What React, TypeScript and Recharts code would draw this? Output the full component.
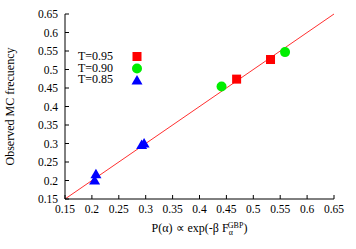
import React from "react";
import {
  ScatterChart,
  Scatter,
  XAxis,
  YAxis,
  ReferenceLine,
  Label,
} from "recharts";

const axisTicks = [0.15, 0.2, 0.25, 0.3, 0.35, 0.4, 0.45, 0.5, 0.55, 0.6, 0.65];
const axisDomain = [0.15, 0.65];

const t095X = [0.469, 0.532];
const t095Y = [0.474, 0.527];
const t090X = [0.441, 0.559];
const t090Y = [0.454, 0.547];
const t085X = [0.205, 0.2075, 0.2925, 0.297];
const t085Y = [0.2, 0.217, 0.296, 0.3];

const seriesNames = ["T=0.95", "T=0.90", "T=0.85"];
const seriesColors = ["#ff0000", "#00ee00", "#0000ff"];

const toPoints = (xs: number[], ys: number[]) =>
  xs.map((x, i) => ({ x, y: ys[i] }));

const FONT = "Liberation Serif";

const Square = (props: any) => {
  const { cx, cy, fill } = props;
  return <rect x={cx - 4.5} y={cy - 4.5} width={9} height={9} fill={fill} />;
};

const Circle = (props: any) => {
  const { cx, cy, fill } = props;
  return <circle cx={cx} cy={cy} r={5} fill={fill} />;
};

const Triangle = (props: any) => {
  const { cx, cy, fill } = props;
  return (
    <polygon
      points={`${cx},${cy - 5.5} ${cx + 5.5},${cy + 4} ${cx - 5.5},${cy + 4}`}
      fill={fill}
    />
  );
};

const shapes = [Square, Circle, Triangle];

const textStyle = { fontFamily: FONT, fill: "#000" };

const BottomTick = (props: any) => {
  const { x, y, payload } = props;
  return (
    <g>
      <line x1={x} y1={y} x2={x} y2={y - 4} stroke="#000" />
      <text x={x} y={y + 14} textAnchor="middle" fontSize={11.5} style={textStyle}>
        {payload.value}
      </text>
    </g>
  );
};

const LeftTick = (props: any) => {
  const { x, y, payload } = props;
  return (
    <g>
      <line x1={x} y1={y} x2={x + 4} y2={y} stroke="#000" />
      <text x={x - 7} y={y + 4} textAnchor="end" fontSize={11.5} style={textStyle}>
        {payload.value}
      </text>
    </g>
  );
};

const TopTick = (props: any) => {
  const { x, y } = props;
  return <line x1={x} y1={y} x2={x} y2={y + 4} stroke="#000" />;
};

const RightTick = (props: any) => {
  const { x, y } = props;
  return <line x1={x} y1={y} x2={x - 4} y2={y} stroke="#000" />;
};

const XTitle = (props: any) => {
  const { viewBox } = props;
  const cx = viewBox.x + viewBox.width / 2;
  const y = viewBox.y + 33;
  return (
    <text x={cx} y={y} textAnchor="middle" fontSize={12} style={textStyle}>
      <tspan>P(α) ∝ exp(-β F</tspan>
      <tspan fontSize={8} dy={3}>α</tspan>
      <tspan fontSize={8} dx={-5} dy={-7}>GBP</tspan>
      <tspan dy={4}>)</tspan>
    </text>
  );
};

const YTitle = (props: any) => {
  const { viewBox } = props;
  const cy = viewBox.y + viewBox.height / 2;
  const x = 14;
  return (
    <text
      x={x}
      y={cy}
      textAnchor="middle"
      fontSize={12}
      transform={`rotate(-90, ${x}, ${cy})`}
      style={textStyle}
    >
      Observed MC frecuency
    </text>
  );
};

const Key = () => (
  <div
    style={{
      position: "absolute",
      left: 78,
      top: 51,
      fontFamily: FONT,
      fontSize: 12,
      lineHeight: "11.7px",
      color: "#000",
      pointerEvents: "none",
    }}
  >
    {seriesNames.map((name, i) => {
      const Shape = shapes[i];
      return (
        <div key={name} style={{ display: "flex", alignItems: "center", height: 11.7 }}>
          <span style={{ width: 52, lineHeight: "11.7px" }}>{name}</span>
          <svg width={14} height={11} style={{ display: "block" }}>
            <Shape cx={7} cy={5.5} fill={seriesColors[i]} />
          </svg>
        </div>
      );
    })}
  </div>
);

export default function App() {
  return (
    <div style={{ position: "absolute", left: 0, top: 0, width: 356, height: 249, background: "#fff" }}>
      <ScatterChart
        width={356}
        height={249}
        margin={{ top: 14, right: 22, bottom: 0, left: 0 }}
      >
        <XAxis
          type="number"
          dataKey="x"
          domain={axisDomain}
          ticks={axisTicks}
          allowDataOverflow
          height={50}
          stroke="#000"
          tickLine={false}
          tickSize={0}
          tickMargin={0}
          tick={<BottomTick />}
          interval={0}
        >
          <Label content={<XTitle />} />
        </XAxis>
        <XAxis
          xAxisId="top"
          orientation="top"
          type="number"
          dataKey="x"
          domain={axisDomain}
          ticks={axisTicks}
          allowDataOverflow
          height={0}
          stroke="#000"
          tickLine={false}
          tickSize={0}
          tickMargin={0}
          tick={<TopTick />}
          interval={0}
        />
        <YAxis
          type="number"
          dataKey="y"
          domain={axisDomain}
          ticks={axisTicks}
          allowDataOverflow
          width={65}
          stroke="#000"
          tickLine={false}
          tickSize={0}
          tickMargin={0}
          tick={<LeftTick />}
          interval={0}
        >
          <Label content={<YTitle />} />
        </YAxis>
        <YAxis
          yAxisId="right"
          orientation="right"
          type="number"
          dataKey="y"
          domain={axisDomain}
          ticks={axisTicks}
          allowDataOverflow
          width={0}
          stroke="#000"
          tickLine={false}
          tickSize={0}
          tickMargin={0}
          tick={<RightTick />}
          interval={0}
        />
        <ReferenceLine
          segment={[
            { x: axisDomain[0], y: axisDomain[0] },
            { x: axisDomain[1], y: axisDomain[1] },
          ]}
          stroke="#ff3030"
          strokeWidth={1}
        />
        <Scatter
          name={seriesNames[0]}
          data={toPoints(t095X, t095Y)}
          fill={seriesColors[0]}
          shape={<Square />}
          isAnimationActive={false}
        />
        <Scatter
          name={seriesNames[1]}
          data={toPoints(t090X, t090Y)}
          fill={seriesColors[1]}
          shape={<Circle />}
          isAnimationActive={false}
        />
        <Scatter
          name={seriesNames[2]}
          data={toPoints(t085X, t085Y)}
          fill={seriesColors[2]}
          shape={<Triangle />}
          isAnimationActive={false}
        />
      </ScatterChart>
      <Key />
    </div>
  );
}
